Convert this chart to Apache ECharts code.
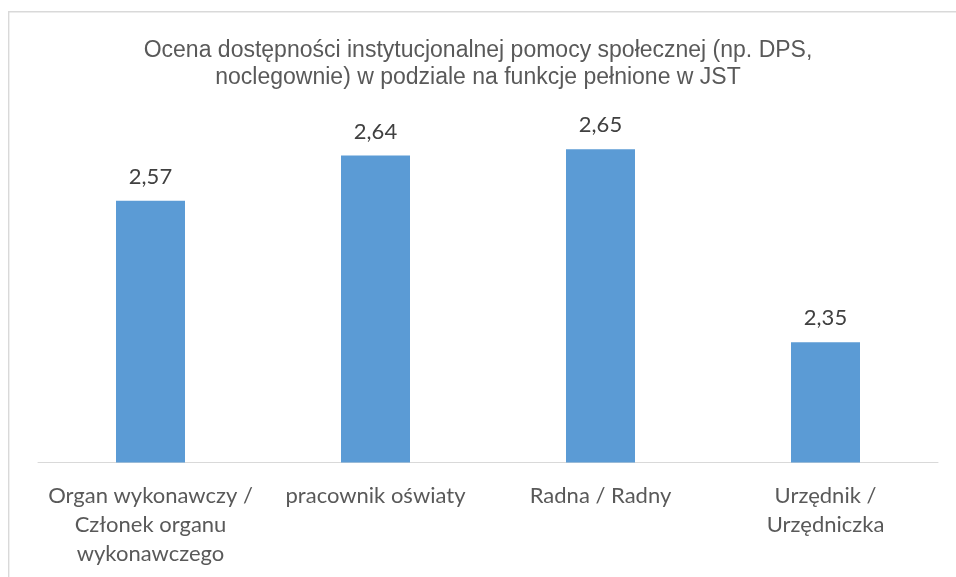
<!DOCTYPE html>
<html>
<head>
<meta charset="utf-8">
<script src="https://cdn.jsdelivr.net/npm/echarts@6/dist/echarts.min.js"></script>
<style>
html,body{margin:0;padding:0;background:#fff;}
#chart{width:956px;height:577px;}
</style>
</head>
<body>
<div id="chart"></div>
<script>
var titleText = "Ocena dostępności instytucjonalnej pomocy społecznej (np. DPS,\nnoclegownie) w podziale na funkcje pełnione w JST";
var categories = ["Organ wykonawczy /\nCzłonek organu\nwykonawczego", "pracownik oświaty", "Radna / Radny", "Urzędnik /\nUrzędniczka"];
var values = [2.57, 2.64, 2.65, 2.35];

var chart = echarts.init(document.getElementById('chart'));
chart.setOption({
  backgroundColor: '#ffffff',
  animation: false,
  title: {
    text: titleText,
    left: 'center',
    top: 32,
    textStyle: {
      fontFamily: 'Liberation Sans, Arial, sans-serif',
      fontSize: 23,
      fontWeight: 'normal',
      color: '#595959',
      lineHeight: 27
    }
  },
  graphic: [{
    type: 'polyline',
    shape: {points: [[8.7, 577], [8.7, 11.7], [956, 11.7]]},
    style: {fill: 'none', stroke: '#d9d9d9', lineWidth: 1.4},
    silent: true
  }],
  grid: {left: 38, right: 18, top: 117, bottom: 114.5, containLabel: false},
  xAxis: {
    type: 'category',
    data: categories,
    axisLine: {show: true, lineStyle: {color: '#d9d9d9', width: 1}},
    axisTick: {show: false},
    axisLabel: {
      interval: 0,
      margin: 19,
      fontFamily: 'Lato, sans-serif',
      fontSize: 22,
      color: '#595959',
      lineHeight: 29
    }
  },
  yAxis: {
    type: 'value',
    min: 2.163,
    max: 2.7,
    show: false,
    splitLine: {show: false}
  },
  series: [{
    type: 'bar',
    data: values,
    barWidth: 69,
    itemStyle: {color: '#5b9bd5'},
    label: {
      show: true,
      position: 'top',
      distance: 13,
      fontFamily: 'Lato, sans-serif',
      fontSize: 22,
      color: '#404040',
      formatter: function (p) { return p.value.toFixed(2).replace('.', ','); }
    }
  }]
});
</script>
</body>
</html>
